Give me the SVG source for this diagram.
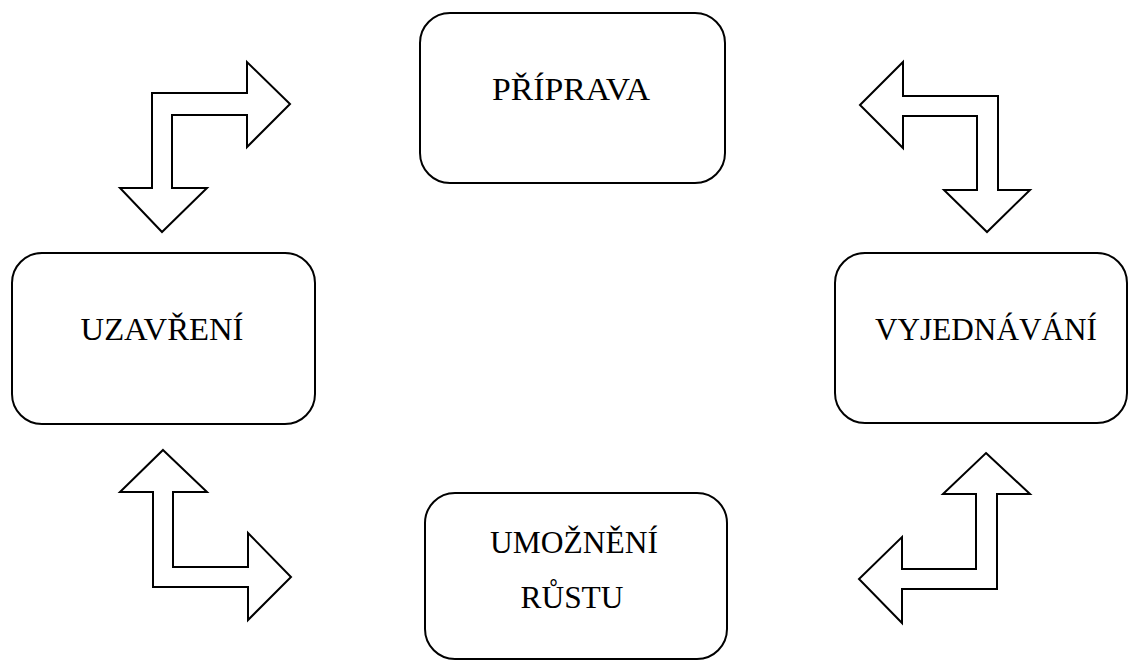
<svg xmlns="http://www.w3.org/2000/svg" width="1129" height="660" viewBox="0 0 1129 660">
<style>
.box{fill:#fff;stroke:#000;stroke-width:2}
.arr{fill:#fff;stroke:#000;stroke-width:2;stroke-linejoin:miter}
.lbl{font-family:"Liberation Serif","Times New Roman",serif;font-size:32px;fill:#000;text-anchor:middle}
</style>
<rect width="1129" height="660" fill="#fff"/>
<g id="connectors">
<polygon class="arr" points="290,104 247,147 247,115 172,115 172,188 207,188 162,232 120,188 152,188 152,93 247,93 247,62"/>
<polygon class="arr" points="860,105 903,62 903,96 998,96 998,190 1030,190 987,232 944,190 977,190 977,116 903,116 903,148"/>
<polygon class="arr" points="163,450 207,492 173,492 173,567 248,567 248,533 291,577 248,620 248,587 153,587 153,492 120,492"/>
<polygon class="arr" points="986,453 1030,494 997,494 997,589 902,589 902,623 859,579 902,537 902,569 976,569 976,494 943,494"/>
</g>
<g id="priprava">
<rect class="box" x="420" y="13" width="305" height="170" rx="30"/>
<text class="lbl" x="571" y="100" textLength="158" lengthAdjust="spacingAndGlyphs">PŘÍPRAVA</text>
</g>
<g id="uzavreni">
<rect class="box" x="12" y="253" width="303" height="171" rx="30"/>
<text class="lbl" x="162" y="340" textLength="163" lengthAdjust="spacingAndGlyphs">UZAVŘENÍ</text>
</g>
<g id="vyjednavani">
<rect class="box" x="835" y="253" width="292" height="170" rx="30"/>
<text class="lbl" x="986" y="340" textLength="222" lengthAdjust="spacingAndGlyphs">VYJEDNÁVÁNÍ</text>
</g>
<g id="umozneni">
<rect class="box" x="425" y="493" width="302" height="166" rx="30"/>
<text class="lbl" x="574" y="553" textLength="168" lengthAdjust="spacingAndGlyphs">UMOŽNĚNÍ</text>
<text class="lbl" x="572" y="608" textLength="103" lengthAdjust="spacingAndGlyphs">RŮSTU</text>
</g>
</svg>
